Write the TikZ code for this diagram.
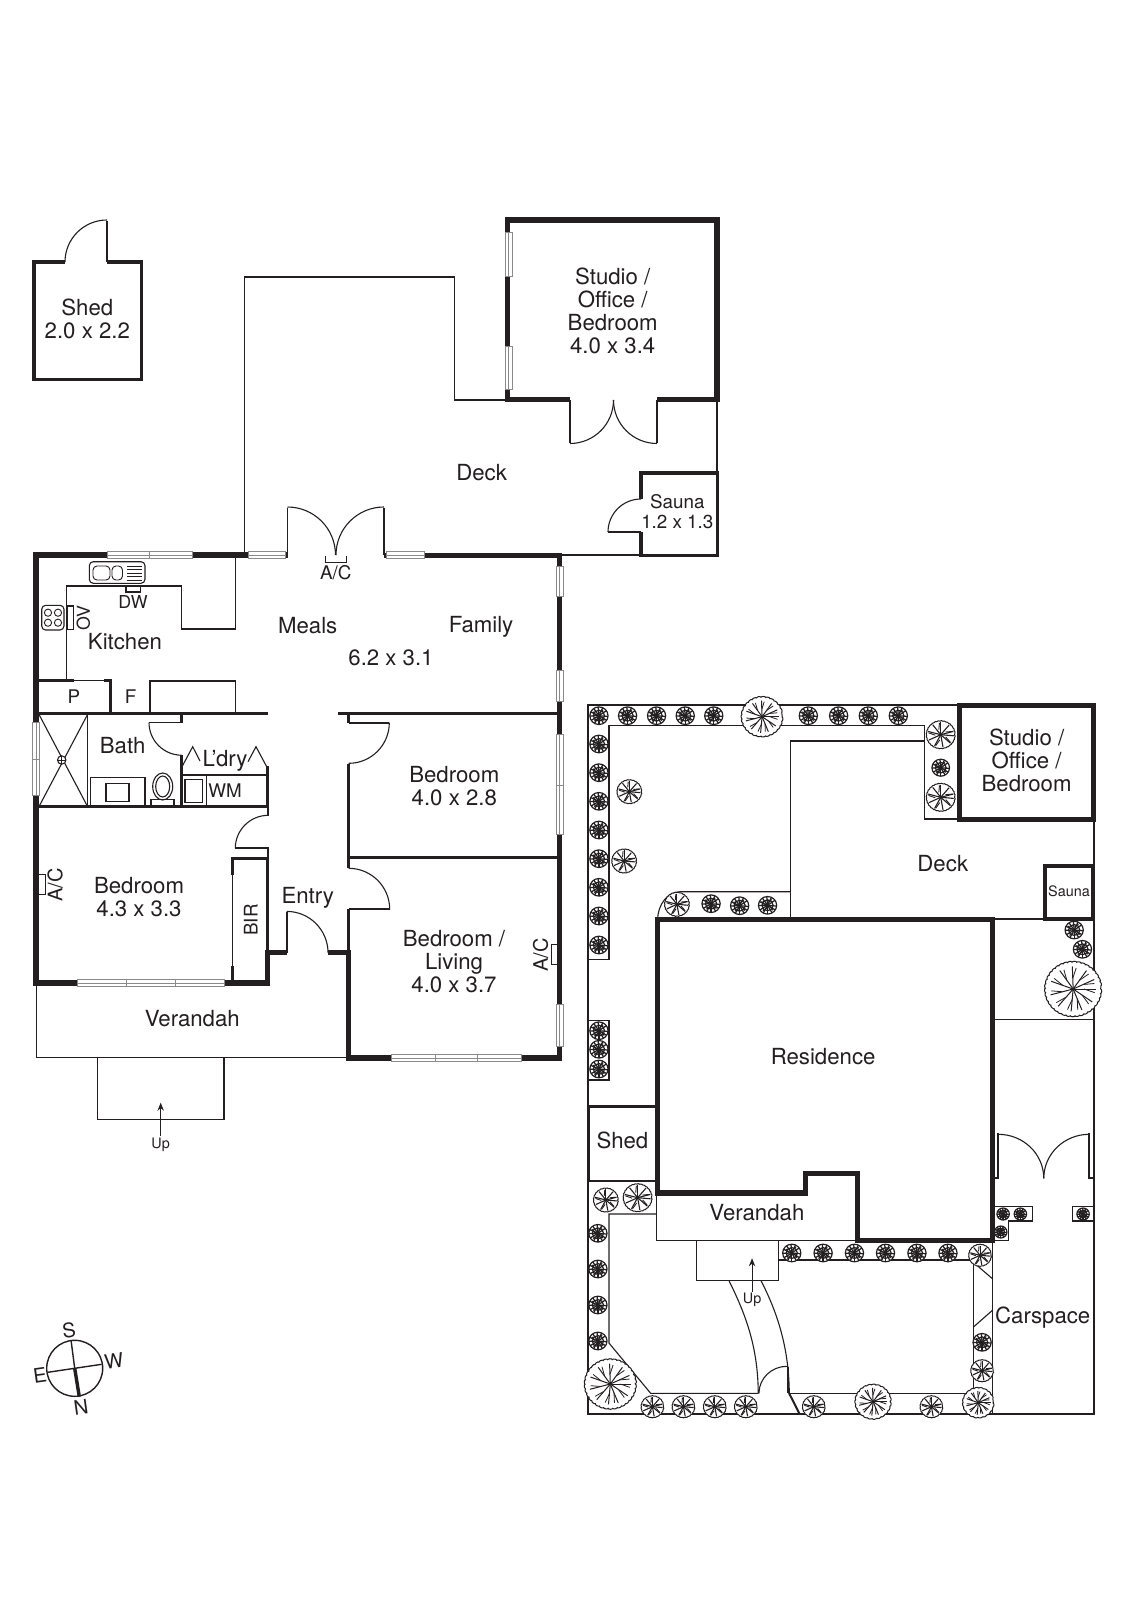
\documentclass[tikz,border=0pt]{standalone}
\usepackage{fontspec}
\setmainfont{TeX Gyre Heros}
\usetikzlibrary{arrows.meta,decorations.pathmorphing}
\definecolor{ink}{HTML}{231F20}
\definecolor{wgrey}{HTML}{8A8A8A}
\tikzset{
  wall/.style={draw=ink,line width=2.7pt,line join=miter,line cap=butt},
  midwall/.style={draw=ink,line width=1.5pt,line join=miter},
  pwall/.style={draw=ink,line width=1.35pt,line join=miter},
  thinl/.style={draw=ink,line width=.55pt},
  hairl/.style={draw=ink,line width=.45pt},
  door/.style={draw=ink,line width=.55pt},
  leaf/.style={draw=ink,line width=.85pt},
  lab/.style={text=ink,inner sep=0pt,align=center,font=\fontsize{11.1}{11.5}\selectfont},
  mlab/.style={text=ink,inner sep=0pt,align=center,font=\fontsize{9.4}{10}\selectfont},
  slab/.style={text=ink,inner sep=0pt,align=center,font=\fontsize{7.2}{8}\selectfont},
  uparrow/.style={draw=ink,line width=.5pt,-{Stealth[length=4pt,width=3.2pt]}},
}
\newcommand{\hwin}[3]{\fill[white] (#1,#3-3.4) rectangle (#2,#3+3.4);
  \draw[wgrey,line width=.45pt] (#1,#3-3.4) rectangle (#2,#3+3.4);
  \draw[wgrey,line width=.4pt] (#1,#3) -- (#2,#3);}
\newcommand{\vwin}[3]{\fill[white] (#1-3.4,#2) rectangle (#1+3.4,#3);
  \draw[wgrey,line width=.45pt] (#1-3.4,#2) rectangle (#1+3.4,#3);
  \draw[wgrey,line width=.4pt] (#1,#2) -- (#1,#3);}
\newcommand{\darc}[5]{\draw[door] (#1,#2) ++(#4:#3) arc[start angle=#4,end angle=#5,radius=#3];}
% small, dark shrub
\newcommand{\shrub}[3]{\begin{scope}[shift={(#1,#2)}]
  \draw[ink,fill=white,line width=.6pt] (0,0) circle[radius=#3];
  \foreach \a in {5,32,60,90,118,148,178,205,235,265,295,325}{\draw[ink,line width=.62pt] (0,0) -- (\a:#3);}
  \draw[ink,line width=.6pt] (0,0) circle[radius=0.62*#3];
  \foreach \a in {20,105,190,280}{\draw[ink,line width=.5pt] (\a:0.35*#3) -- (\a+25:0.8*#3);}
  \end{scope}}
% medium shrub
\newcommand{\mshrub}[3]{\begin{scope}[shift={(#1,#2)}]
  \draw[ink,fill=white,line width=.5pt,decorate,decoration={bumps,segment length=3pt,amplitude=.35pt}] (0,0) circle[radius=#3];
  \foreach \a in {5,42,80,118,155,195,232,270,310,345}{\draw[ink,line width=.55pt] (0,0) -- (\a:0.95*#3);}
  \foreach \a in {25,100,175,250,330}{\draw[ink,line width=.45pt] (\a:0.4*#3) -- (\a+14:0.9*#3);}
  \end{scope}}
% large tree
\newcommand{\tree}[3]{\begin{scope}[shift={(#1,#2)}]
  \draw[ink,fill=white,line width=.5pt,decorate,decoration={bumps,segment length=4.5pt,amplitude=.6pt}] (0,0) circle[radius=#3];
  \foreach \a in {0,35,68,95,130,165,200,235,268,305,335}{\draw[ink,line width=.5pt] (0,0) -- (\a:0.85*#3);
     \draw[ink,line width=.4pt] (\a:0.4*#3) -- (\a+10:0.8*#3);}
  \end{scope}}
\begin{document}
\begin{tikzpicture}[x=.5pt,y=-.5pt]
\useasboundingbox (0,0) rectangle (1131,1600);
\fill[white] (0,0) rectangle (1131,1600);

%% ---------- Shed (detached) ----------
\draw[pwall,line width=1.75pt] (65,262) -- (34,262) -- (34,379.5) -- (141.5,379.5) -- (141.5,262) -- (107,262);
\draw[leaf] (107,262) -- (107,220.5);
\darc{107}{262}{42}{180}{270}

%% ---------- Deck outline ----------
\draw[thinl] (244.7,555) -- (244.7,277) -- (454.3,277) -- (454.3,400) -- (505,400);
\draw[thinl] (717,400) -- (717,472);
\draw[thinl] (562,555) -- (640,555);

%% ---------- Studio ----------
\draw[wall] (570,399.5) -- (507.7,399.5) -- (507.7,220) -- (717,220) -- (717,399.5) -- (657,399.5);
\vwin{508.7}{232}{276}
\vwin{508.7}{346}{389}
\draw[leaf] (570,400) -- (570,443);
\draw[leaf] (657,400) -- (657,443);
\darc{570}{400}{43.5}{0}{90}
\darc{657}{400}{43.5}{90}{180}

%% ---------- Sauna ----------
\draw[midwall,line width=1.7pt] (641,499) -- (641,473) -- (717.5,473) -- (717.5,555.5) -- (641,555.5) -- (641,532);
\draw[leaf] (641,532) -- (608,532);
\darc{641}{532}{33}{180}{270}

%% ---------- Main house outer walls ----------
\draw[wall,line width=2.9pt] (288,555.3) -- (36.3,555.3) -- (36.3,983) -- (267.5,983) -- (267.5,950);
\draw[wall,line width=2.6pt] (384,555.3) -- (559.7,555.3) -- (559.7,1058) -- (348.5,1058) -- (348.5,950);
\draw[wall,line width=2.7pt] (265,952.7) -- (286.7,952.7);
\draw[wall,line width=2.7pt] (328.3,952.7) -- (350,952.7);
\hwin{107}{149.5}{555.3}\hwin{149.5}{192}{555.3}
\hwin{248}{285}{555.3}
\hwin{386.7}{424}{555.3}
\vwin{559.7}{566}{596.7}
\vwin{559.7}{670.7}{701.7}
\vwin{559.7}{734.3}{785}\vwin{559.7}{785}{834.3}
\vwin{559.7}{1004}{1046.7}
\vwin{36.3}{722.3}{759}\vwin{36.3}{759}{795.7}
\hwin{77.3}{126}{983}\hwin{126}{175}{983}\hwin{175}{224}{983}
\hwin{391.7}{435.3}{1058}\hwin{435.3}{477.7}{1058}\hwin{477.7}{521.7}{1058}

%% Doors to deck
\draw[leaf] (287.5,555) -- (287.5,507.5);
\draw[leaf] (384,555) -- (384,507.5);
\darc{287.5}{555}{48}{270}{360}
\darc{384}{555}{48}{180}{270}
\draw[hairl] (325.7,555.7) -- (325.7,562.5) -- (346,562.5) -- (346,555.7);

%% ---------- Interior walls ----------
\draw[pwall] (39,713.7) -- (267.7,713.7);
\draw[pwall] (338.3,713.7) -- (557,713.7);
\draw[pwall] (39,806.7) -- (269,806.7);
\draw[pwall] (348.7,857.7) -- (557,857.7);
% Pantry
\draw[pwall] (39,680.7) -- (74,680.7);
\draw[thinl] (74,680.7) -- (104,680.7);
\draw[pwall] (104,680.7) -- (110.7,680.7) -- (110.7,713.7);
% Kitchen bench
\draw[thinl] (66.7,680) -- (66.7,586) -- (181.7,586) -- (181.7,629) -- (235.7,629) -- (235.7,558);
\draw[thinl] (150,713) -- (150,681) -- (235.7,681) -- (235.7,713);
% Sink
\draw[thinl,rounded corners=2pt] (89.3,561.7) rectangle (145,583.3);
\draw[hairl,rounded corners=2pt] (93,566) rectangle (110,580);
\draw[hairl,rounded corners=2pt] (112,566) rectangle (122.5,580);
\foreach \yy in {566,569.5,573,576.5,580}{\draw[hairl] (127,\yy) -- (142,\yy);}
\draw[thinl] (126,586) rectangle (140.7,592);
% Cooktop
\draw[thinl,rounded corners=2pt] (41.7,605.3) rectangle (64,630);
\foreach \xx in {48,58}{\foreach \yy in {612.7,622.7}{\draw[hairl] (\xx,\yy) circle[radius=3.6];}}
\draw[thinl] (67.3,606) rectangle (73.3,629.3);
% Shower
\draw[thinl] (87.3,714) -- (87.3,806);
\draw[thinl] (39.3,715) -- (87.3,806);
\draw[thinl] (87.3,715) -- (39.3,806);
\draw[thinl,fill=white] (61.7,760) circle[radius=4.2];
\draw[hairl] (57.5,760) -- (65.9,760) (61.7,755.8) -- (61.7,764.2);
% Vanity
\draw[thinl] (90.7,806) -- (90.7,777.7) -- (145,777.7) -- (145,806);
\draw[thinl] (106,783.3) rectangle (129,801.7);
% Toilet
\draw[thinl] (162.7,786.5) ellipse[x radius=10,y radius=13.5];
\draw[thinl] (162.7,786.5) ellipse[x radius=7,y radius=10.5];
\draw[thinl] (151,806) -- (151,799.3) -- (174,799.3) -- (174,806);
% Bath door + stub
\draw[pwall] (181.7,713.7) -- (181.7,723);
\draw[leaf] (181.7,722.5) -- (149,722.5);
\darc{181.7}{722.5}{32.7}{90}{180}
\draw[pwall] (181.7,755) -- (181.7,806.7);
% Laundry
\draw[thinl] (182,766.7) -- (192.7,746.7) -- (200,761);
\draw[thinl] (248,761.7) -- (256,746.7) -- (266.7,766.7);
\draw[thinl] (182,775) -- (267,775);
\draw[thinl] (206.7,775) -- (206.7,806);
\draw[thinl,line width=.75pt] (185,779.3) rectangle (202.3,802.3);
\draw[pwall] (267.7,766) -- (267.7,806);
\draw[leaf] (268.3,806) -- (268.3,815.7);
% Left bedroom door
\darc{268.3}{848.3}{33}{270}{180}
\draw[leaf] (235.3,848.3) -- (268.3,848.3) -- (268.3,858);
% Hall wall west, BIR
\draw[pwall] (267.7,858) -- (267.7,951);
\draw[pwall] (232.3,875) -- (232.3,858.3) -- (268.5,858.3);
\draw[thinl] (232.8,875) -- (232.8,965.7);
\draw[pwall] (232.3,965.7) -- (232.3,982);
% Hall wall east with doors
\draw[pwall] (348.7,714) -- (348.7,722.7);
\draw[leaf] (348.7,722.7) -- (389.3,722.7);
\darc{348.7}{722.7}{40.6}{0}{90}
\draw[pwall] (348.7,763.5) -- (348.7,868.3);
\darc{348.7}{909.3}{41}{270}{360}
\draw[leaf] (389.7,909.3) -- (348.7,909.3);
\draw[pwall] (348.7,908.5) -- (348.7,951);
% Entry door
\draw[leaf] (286.7,952.7) -- (286.7,911.7);
\darc{286.7}{952.7}{41.3}{270}{360}
% A/C boxes
\draw[hairl] (39.3,874.3) -- (45,874.3) -- (45,894.3) -- (39.3,894.3);
\draw[hairl] (556.5,944.3) -- (551.7,944.3) -- (551.7,964.3) -- (556.5,964.3);
% Verandah + steps
\draw[thinl] (36.7,985) -- (36.7,1057.7) -- (347,1057.7);
\draw[thinl] (97.3,1057.7) -- (97.3,1119.3) -- (224,1119.3) -- (224,1057.7);
\coordinate (upA) at (160.7,1136);
\coordinate (upB) at (160.7,1102.7);
\draw[uparrow] (upA) -- (upB);

%% ---------- Labels of the floor plan ----------
\node[lab] (shedA) at (87.3,318.5) {Shed\\2.0 x 2.2};
\node[lab] (studioA) at (612.7,311) {Studio /\\Office /\\Bedroom\\4.0 x 3.4};
\node[lab] (deckA) at (481.7,472.3) {Deck};
\node[mlab] (saunaA) at (677.3,511.5) {Sauna\\1.2 x 1.3};
\node[mlab] (acTop) at (335.7,573) {A/C};
\node[mlab,font=\fontsize{8.9}{10}\selectfont] (dw) at (133,602) {DW};
\node[mlab,font=\fontsize{8.9}{10}\selectfont,rotate=90] (ov) at (83.3,617.7) {OV};
\node[lab] (kitchen) at (125,641.7) {Kitchen};
\node[lab] (meals) at (307.7,625.7) {Meals};
\node[lab] (family) at (481,627) {Family};
\node[lab] (mealsDim) at (391,657.7) {6.2 x 3.1};
\node[mlab] (pant) at (74,697) {P};
\node[mlab] (frid) at (130.7,697) {F};
\node[lab] (bath) at (122.7,745.7) {Bath};
\node[lab] (ldry) at (225,761) {L’dry};
\node[mlab] (wm) at (225,790.7) {WM};
\node[lab] (bed1) at (454.3,785.7) {Bedroom\\4.0 x 2.8};
\node[lab] (bed2) at (139,897) {Bedroom\\4.3 x 3.3};
\node[mlab,rotate=90,font=\fontsize{10}{10}\selectfont] (acL) at (55,885) {A/C};
\node[mlab,rotate=90] (bir) at (250.7,920) {BIR};
\node[lab] (entry) at (307.7,898) {Entry};
\node[lab] (bed3) at (454,962) {Bedroom /\\Living\\4.0 x 3.7};
\node[mlab,rotate=90,font=\fontsize{10}{10}\selectfont] (acR) at (540.7,955) {A/C};
\node[lab] (verA) at (192.3,1019) {Verandah};
\node[slab] (upL) at (160.7,1144.5) {Up};

%% ---------- Site plan ----------
\begin{scope}[x=.51725pt,xshift=-10pt]
% boundary and garden beds
\draw[thinl,line width=.8pt] (946,705) -- (587.7,705) -- (587.7,1414) -- (1076.7,1414) -- (1076.7,919);
\draw[thinl,line width=.8pt] (1076.7,820) -- (1076.7,866);
\draw[thinl] (588,959.3) -- (608,959.3) -- (608,725.7) -- (913.3,725.7) -- (913.3,819) -- (946,819);
\draw[thinl] (783.7,919) -- (783.7,741) -- (913.3,741);
\draw[thinl] (783.7,891.7) -- (676.7,891.7) .. controls (664,892) and (655.5,905) .. (655,919);
\draw[thinl] (979,919) -- (1029,919);
\draw[thinl] (981,1019.3) -- (1076.7,1019.3);
\draw[thinl] (588,1020.7) -- (608,1020.7) -- (608,1080) -- (588,1080);
% Shed (site)
\draw[pwall] (655,1106.5) -- (588.2,1106.5) -- (588.2,1181) -- (655,1181);
% Lower garden
\draw[thinl] (654,1214) -- (608,1214) -- (608,1343) -- (648.3,1393.3) -- (752.3,1393.3);
\draw[thinl] (782,1393.3) -- (960,1393.3) -- (960,1260) -- (771.7,1260);
\draw[thinl] (979,1240) -- (979,1414);
\draw[thinl] (963.3,1265) -- (979,1279);
\draw[thinl] (960,1327.3) -- (979,1310);
% Verandah + steps
\draw[thinl] (654.3,1194) -- (654.3,1240.7) -- (848,1240.7);
\draw[thinl] (693,1240.7) -- (693,1280.7) -- (771.7,1280.7) -- (771.7,1240.7);
% Path
\draw[thinl] (724,1280.7) .. controls (742,1318) and (752,1350) .. (752.3,1393.3);
\draw[thinl] (755,1280.7) .. controls (772,1315) and (782,1350) .. (782.3,1393.3);
% Gate
\darc{780}{1393.3}{27}{180}{270}
\draw[leaf] (781,1367) -- (781,1393.3);
\draw[ink,line width=1pt] (782,1393) -- (792.3,1414);
% Carport doors
\draw[leaf] (981,1178.3) -- (984.3,1178.3) -- (984.3,1132.7);
\draw[leaf] (1076.7,1178.3) -- (1072.3,1178.3) -- (1072.3,1132.7);
\darc{984.3}{1178.3}{44}{270}{360}
\darc{1072.3}{1178.3}{44}{180}{270}
% small beds
\draw[thinl] (981,1206.7) -- (1017.7,1206.7) -- (1017.7,1221) -- (994.3,1221) -- (994.3,1240.7) -- (981,1240.7);
\draw[thinl] (1076.7,1206.7) -- (1056,1206.7) -- (1056,1221) -- (1076.7,1221);
% Plants
\foreach \xx in {598.3,626,654,681.7,709.3,800.7,830,858.7,887.7}{\shrub{\xx}{715.7}{8.8}}
\foreach \yy in {744,772.7,801.3,830,858.7,887.3,916,945,1030.7,1049.3,1069}{\shrub{598.3}{\yy}{8.8}}
\tree{756}{716.7}{19}
\mshrub{627.7}{791.7}{11.3}
\mshrub{622.7}{861}{11.3}
\mshrub{928.7}{734.7}{13.3}
\shrub{928.7}{767.7}{8.5}
\mshrub{928.7}{797.3}{13.3}
\mshrub{673.7}{904.3}{11.3}
\shrub{706.7}{903.7}{8.8}
\shrub{734.3}{905.7}{8.8}
\shrub{761.3}{905.3}{8.8}
\shrub{1057.7}{930}{8.8}
\shrub{1065.7}{949.3}{8.8}
\tree{1056.7}{989}{26.5}
\mshrub{605}{1200}{11.3}
\mshrub{635.7}{1197.7}{13.3}
\foreach \yy in {1233.3,1269,1305,1341}{\shrub{597.3}{\yy}{8.8}}
\tree{609.3}{1384}{24}
\foreach \xx in {650,680,710.3,740.3,806}{\mshrub{\xx}{1406.7}{10.3}}
\tree{863.3}{1401.7}{16.3}
\mshrub{919.7}{1406.7}{10.3}
\tree{965}{1402.7}{14}
\mshrub{968.7}{1370.7}{10.3}
\shrub{968.7}{1342.3}{8.8}
\mshrub{966.7}{1255.3}{10.3}
\foreach \xx in {784.7,815,845.3,875.3,905.7,935.7}{\shrub{\xx}{1253}{8.8}}
\shrub{989}{1214}{6}
\shrub{1005.7}{1214}{6}
\shrub{986.7}{1232}{6}
\shrub{1066.3}{1214}{6}
% Site buildings
\draw[wall,line width=2.5pt] (946.8,705) rectangle (1076.8,819.8);
\draw[midwall,line width=1.7pt] (1029.5,866) rectangle (1076,919);
\draw[wall,line width=2.6pt] (655,1193) -- (655,919.5) -- (979,919.5) -- (979,1240.7) -- (848.3,1240.7) -- (848.3,1173.3) -- (798.3,1173.3) -- (798.3,1193) -- cycle;
% Site labels
\node[lab] (studioB) at (1011.7,760) {Studio /\\Office /\\Bedroom};
\node[lab] (deckB) at (930.7,863.3) {Deck};
\node[slab] (saunaB) at (1052.7,891) {Sauna};
\node[lab] (resid) at (815,1056.7) {Residence};
\node[lab] (shedB) at (621,1140) {Shed};
\node[lab] (verB) at (751,1212.3) {Verandah};
\node[slab] (upR) at (746.3,1300) {Up};
\node[lab] (car) at (1027.3,1318) {Carspace};
\coordinate (upC) at (746.3,1291.7);
\coordinate (upD) at (746.3,1258.3);
\draw[uparrow] (upC) -- (upD);
\end{scope}

%% ---------- Compass ----------
\coordinate (cS) at (71,1340);
\coordinate (cN) at (79.3,1396.7);
\coordinate (cE) at (47.7,1372.3);
\coordinate (cW) at (101.7,1364.3);
\coordinate (cC) at (74.7,1368.3);
\draw[ink,line width=.7pt] (74.7,1368.3) circle[radius=28];
\draw[ink,line width=.7pt] (cS) -- (cC);
\draw[ink,line width=.7pt] (cE) -- (cW);
\draw[ink,line width=1.7pt] (cC) -- (cN);
\node[mlab,rotate=8,font=\fontsize{10}{10}\selectfont] (nS) at (69,1330.7) {S};
\node[mlab,rotate=8,font=\fontsize{10}{10}\selectfont] (nE) at (40,1375) {E};
\node[mlab,rotate=8,font=\fontsize{10}{10}\selectfont] (nW) at (114,1360.7) {W};
\node[mlab,rotate=8,font=\fontsize{10}{10}\selectfont] (nN) at (81,1407) {N};
\end{tikzpicture}
\end{document}
